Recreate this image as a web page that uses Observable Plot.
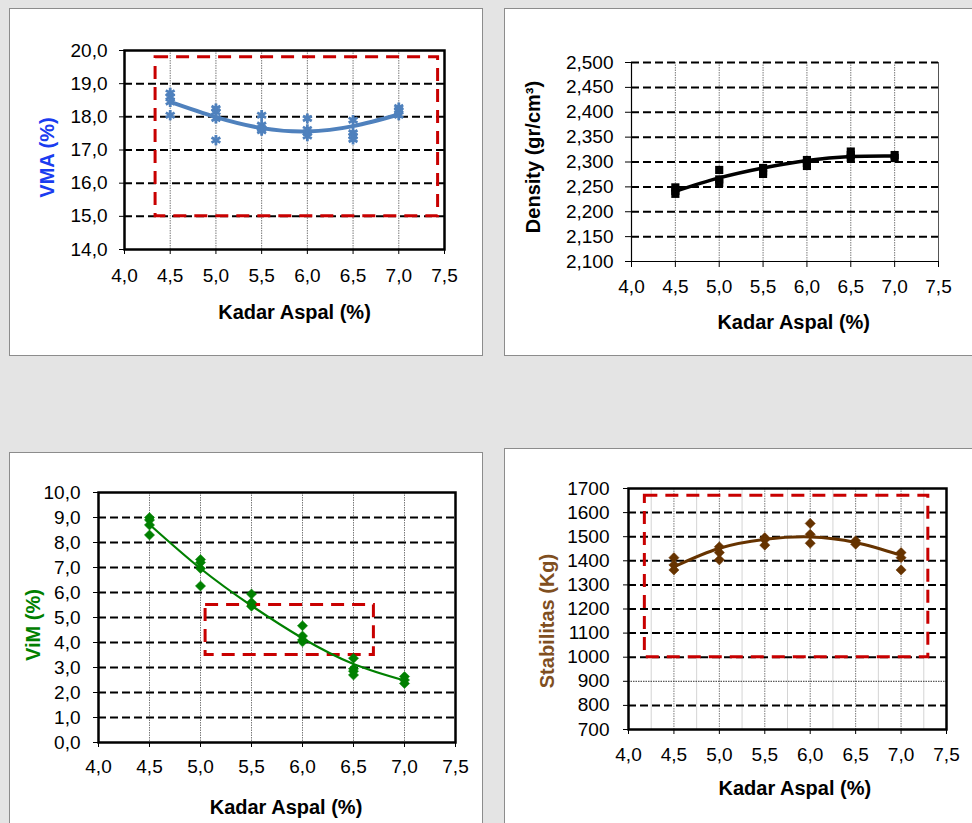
<!DOCTYPE html>
<html><head><meta charset="utf-8">
<script src="https://cdn.jsdelivr.net/npm/d3@7"></script>
<script src="https://cdn.jsdelivr.net/npm/@observablehq/plot@0.6"></script>
<style>
html,body{margin:0;padding:0;}
body{width:972px;height:823px;background:#e4e4e4;position:relative;overflow:hidden;font-family:"Liberation Sans",Arial,sans-serif;}
.panel{position:absolute;background:#fff;border:1px solid #8c8c8c;box-sizing:border-box;overflow:hidden;}
.panel svg{display:block;position:absolute;left:0;top:0;}
</style></head><body>
<div id="p1" class="panel" style="left:9px;top:8px;width:474px;height:348px"></div>
<div id="p2" class="panel" style="left:504px;top:8px;width:470px;height:348px"></div>
<div id="p3" class="panel" style="left:9px;top:452px;width:474px;height:380px"></div>
<div id="p4" class="panel" style="left:504px;top:448px;width:470px;height:380px"></div>
<script>
// ---------- data ----------
const kadar = [4.5, 5.0, 5.5, 6.0, 6.5, 7.0];
const xTicks = [4.0, 4.5, 5.0, 5.5, 6.0, 6.5, 7.0, 7.5];
const xTitle = "Kadar Aspal (%)";

// VMA
const vmaTitle = "VMA (%)";
const vmaTicks = [14, 15, 16, 17, 18, 19, 20];
const vmaGrid = [15, 16, 17, 18, 19];
const vmaSamples = [
  [18.72, 18.6, 18.45, 18.05],
  [18.25, 18.15, 17.95, 17.3],
  [18.05, 17.75, 17.65, 17.58],
  [17.95, 17.62, 17.52, 17.42],
  [17.9, 17.52, 17.42, 17.32],
  [18.28, 18.2, 18.05]
];
const vmaTrend = [18.45, 17.99, 17.66, 17.56, 17.72, 18.07];
const vmaSpec = [{x1: 4.34, x2: 7.43, y1: 15.0, y2: 19.8}];

// Density
const denTitle = "Density (gr/cm³)";
const denTicks = [2.100, 2.150, 2.200, 2.250, 2.300, 2.350, 2.400, 2.450, 2.500];
const denGrid = [2.150, 2.200, 2.250, 2.300, 2.350, 2.400, 2.450, 2.500];
const denSamples = [
  [2.249, 2.242, 2.236],
  [2.284, 2.265, 2.258],
  [2.288, 2.281, 2.276],
  [2.304, 2.298, 2.292],
  [2.321, 2.314, 2.308],
  [2.314, 2.308]
];
const denTrend = [2.241, 2.268, 2.288, 2.303, 2.311, 2.312];

// VIM
const vimTitle = "ViM (%)";
const vimTicks = [0, 1, 2, 3, 4, 5, 6, 7, 8, 9, 10];
const vimGrid = [1, 2, 3, 4, 5, 6, 7, 8, 9];
const vimSamples = [
  [9.0, 8.9, 8.7, 8.3],
  [7.32, 7.2, 6.96, 6.26],
  [5.94, 5.6, 5.45],
  [4.67, 4.26, 4.1, 4.03],
  [3.37, 2.95, 2.85, 2.7],
  [2.64, 2.5, 2.36]
];
const vimTrend = [8.72, 6.96, 5.47, 4.17, 3.14, 2.48];
const vimSpec = [{x1: 5.05, x2: 6.7, y1: 3.5, y2: 5.5}];

// Stabilitas
const stbTitle = "Stabilitas (Kg)";
const stbTicks = [700, 800, 900, 1000, 1100, 1200, 1300, 1400, 1500, 1600, 1700];
const stbGrid = [800, 1000, 1100, 1200, 1300, 1400, 1500, 1600];
const stbGridDotted = [900];
const stbMinorX = [4.25, 4.75, 5.25, 5.75, 6.25, 6.75, 7.25];
const stbSamples = [
  [1413, 1383, 1362],
  [1458, 1434, 1404],
  [1496, 1488, 1465],
  [1555, 1510, 1473],
  [1483, 1469],
  [1434, 1413, 1362]
];
const stbTrend = [1375, 1452, 1489, 1499, 1476, 1423];
const stbSpec = [{x1: 4.18, x2: 7.30, y1: 1000, y2: 1670}];

// ---------- helpers ----------
const fmt1 = d => d.toFixed(1).replace(".", ",");
const fmt3 = d => d.toFixed(3).replace(".", ",");
const fmt0 = d => d.toFixed(0);
const toPoints = s => s.flatMap((arr, i) => arr.map(v => ({x: kadar[i], y: v})));
const toTrend = t => kadar.map((x, i) => ({x, y: t[i]}));

function makePanel(o) {
  const marks = [];
  if (o.minorX) marks.push(Plot.ruleX(o.minorX, {stroke: "#d4d4d4", strokeWidth: 1}));
  marks.push(Plot.ruleX(kadar, {stroke: "#7a7a7a", strokeWidth: 1, strokeDasharray: "1.5,1"}));
  if (o.dotted) marks.push(Plot.ruleY(o.dotted, {stroke: "#333", strokeWidth: 1, strokeDasharray: "1.5,1"}));
  marks.push(Plot.ruleY(o.grid, {stroke: "black", strokeWidth: 2, strokeDasharray: "8,4"}));
  if (o.spec) marks.push(Plot.rect(o.spec, {x1: "x1", x2: "x2", y1: "y1", y2: "y2", fill: "none", stroke: "#c80000", strokeWidth: 3, strokeDasharray: "13,8"}));
  marks.push(Plot.line(toTrend(o.trend), {x: "x", y: "y", stroke: o.color, strokeWidth: o.lineWidth, curve: "natural"}));
  marks.push(Plot.dot(toPoints(o.samples), {x: "x", y: "y", symbol: o.symbol, r: o.r, fill: o.dotFill, stroke: o.color, strokeWidth: o.dotStrokeWidth}));
  if (o.thinFrame) {
    marks.push(Plot.ruleX([o.xDomain[1]], {stroke: "#555", strokeWidth: 1}));
    marks.push(Plot.ruleX([o.xDomain[0]], {stroke: "black", strokeWidth: 1.2}));
    marks.push(Plot.ruleY([o.yDomain[0]], {stroke: "black", strokeWidth: 1.2}));
  } else {
    marks.push(Plot.frame({stroke: "black", strokeWidth: 2.5}));
  }
  marks.push(Plot.axisX({ticks: xTicks, tickFormat: fmt1, tickSize: o.tickSize, tickPadding: o.xPad, label: null}));
  marks.push(Plot.axisY({ticks: o.yTicks, tickFormat: o.yFmt, tickSize: o.tickSize, tickPadding: o.yPad, label: null}));
  marks.push(Plot.text([xTitle], {text: d => d, frameAnchor: "bottom", textAnchor: "middle", lineAnchor: "middle", dx: o.xtDx, dy: o.xtDy, fontWeight: "bold", fontSize: 20, fill: "black"}));
  marks.push(Plot.text([o.yTitle], {text: d => d, frameAnchor: "left", textAnchor: "middle", lineAnchor: "middle", rotate: -90, dx: o.ytDx, dy: o.ytDy, fontWeight: "bold", fontSize: 20, fill: o.titleColor}));
  const chart = Plot.plot({
    width: o.w, height: o.h,
    marginLeft: o.ml, marginRight: o.mr, marginTop: o.mt, marginBottom: o.mb,
    x: {domain: o.xDomain},
    y: {domain: o.yDomain},
    style: {fontFamily: "'Liberation Sans', Arial, sans-serif", fontSize: "19px", background: "transparent", overflow: "visible", color: "black"},
    marks
  });
  document.getElementById(o.el).appendChild(chart);
}

makePanel({
  el: "p1", w: 472, h: 346, ml: 114, mr: 38, mt: 41, mb: 106,
  xDomain: [4.0, 7.5], yDomain: [14, 20], yTicks: vmaTicks, yFmt: fmt1,
  grid: vmaGrid, spec: vmaSpec, samples: vmaSamples, trend: vmaTrend,
  color: "#4f81bd", lineWidth: 4, symbol: "asterisk", r: 4.8, dotFill: "none", dotStrokeWidth: 2.8,
  tickSize: 5, xPad: 14, yPad: 12,
  xtDx: 10, xtDy: 63, yTitle: vmaTitle, titleColor: "#1a3cf0", ytDx: -77, ytDy: 7.5
});
makePanel({
  el: "p2", w: 468, h: 346, ml: 126, mr: 35, mt: 53, mb: 94,
  xDomain: [4.0, 7.5], yDomain: [2.1, 2.5], yTicks: denTicks, yFmt: fmt3,
  grid: denGrid, samples: denSamples, trend: denTrend, thinFrame: true,
  color: "black", lineWidth: 3.5, symbol: "square", r: 4.6, dotFill: "black", dotStrokeWidth: 0,
  tickSize: 6, xPad: 12, yPad: 12,
  xtDx: 8.7, xtDy: 61.3, yTitle: denTitle, titleColor: "black", ytDx: -98, ytDy: -5
});
makePanel({
  el: "p3", w: 472, h: 378, ml: 88, mr: 27, mt: 39, mb: 89,
  xDomain: [4.0, 7.5], yDomain: [0, 10], yTicks: vimTicks, yFmt: fmt1,
  grid: vimGrid, spec: vimSpec, samples: vimSamples, trend: vimTrend,
  color: "#008000", lineWidth: 2.2, symbol: "diamond2", r: 4.6, dotFill: "#008000", dotStrokeWidth: 0.5,
  tickSize: 5, xPad: 11.6, yPad: 13,
  xtDx: 9, xtDy: 65, yTitle: vimTitle, titleColor: "#008000", ytDx: -64.7, ytDy: 7.5
});
makePanel({
  el: "p4", w: 468, h: 378, ml: 123, mr: 27, mt: 39, mb: 98,
  xDomain: [4.0, 7.5], yDomain: [700, 1700], yTicks: stbTicks, yFmt: fmt0,
  grid: stbGrid, dotted: stbGridDotted, minorX: stbMinorX, spec: stbSpec, samples: stbSamples, trend: stbTrend,
  color: "#663300", lineWidth: 3, symbol: "diamond2", r: 4.6, dotFill: "#663300", dotStrokeWidth: 0.5,
  tickSize: 5, xPad: 12.7, yPad: 14,
  xtDx: 7.3, xtDy: 59.4, yTitle: stbTitle, titleColor: "#7f4f1f", ytDx: -80.7, ytDy: 12
});
</script>
</body></html>
